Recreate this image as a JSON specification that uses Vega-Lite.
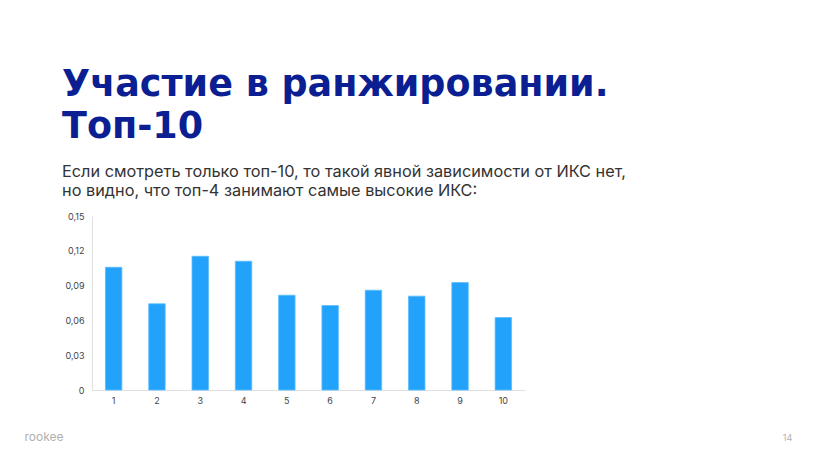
{
  "$schema": "https://vega.github.io/schema/vega-lite/v6.json",
  "width": 433,
  "height": 174,
  "autosize": {"type": "none"},
  "padding": {"left": 92, "top": 216, "right": 293, "bottom": 70},
  "background": "#ffffff",
  "title": {
    "text": ["Участие в ранжировании.", "Топ-10"],
    "subtitle": ["Если смотреть только топ-10, то такой явной зависимости от ИКС нет,", "но видно, что топ-4 занимают самые высокие ИКС:"],
    "anchor": "start",
    "frame": "group",
    "dx": -30,
    "offset": 13,
    "font": "DejaVu Sans",
    "fontSize": 36.5,
    "fontWeight": "bold",
    "lineHeight": 42,
    "color": "#0b1f93",
    "subtitleFont": "Inter",
    "subtitleFontSize": 16.3,
    "subtitleLineHeight": 19,
    "subtitleColor": "#333333",
    "subtitlePadding": 18
  },
  "data": {
    "values": [
      {"pos": "1", "iks": 0.1058},
      {"pos": "2", "iks": 0.0743},
      {"pos": "3", "iks": 0.1153},
      {"pos": "4", "iks": 0.111},
      {"pos": "5", "iks": 0.0817},
      {"pos": "6", "iks": 0.0728},
      {"pos": "7", "iks": 0.086},
      {"pos": "8", "iks": 0.0809},
      {"pos": "9", "iks": 0.0926},
      {"pos": "10", "iks": 0.0625}
    ]
  },
  "encoding": {
    "x": {
      "field": "pos",
      "type": "ordinal",
      "sort": null,
      "scale": {"paddingInner": 0.62, "paddingOuter": 0.31},
      "axis": {
        "title": "rookee",
        "titleFont": "Inter",
        "titleFontSize": 12,
        "titleFontWeight": 400,
        "titleColor": "#b0b0b0",
        "titleAnchor": "start",
        "titleAlign": "left",
        "titleX": -68,
        "titleY": 41,
        "labelAngle": 0,
        "labelFont": "Inter",
        "labelFontSize": 9,
        "labelColor": "#444444",
        "labelPadding": 6,
        "ticks": false,
        "domainColor": "#e0e0e0",
        "domainWidth": 1
      }
    }
  },
  "layer": [
    {
      "mark": {"type": "bar", "color": "#22a2fa", "stroke": "#5cbcfc", "strokeWidth": 0.8},
      "encoding": {
        "y": {
          "field": "iks",
          "type": "quantitative",
          "scale": {"domain": [0, 0.15], "nice": false},
          "axis": {
            "title": null,
            "values": [0, 0.03, 0.06, 0.09, 0.12, 0.15],
            "labelExpr": "replace(format(datum.value, '.2~f'), '.', ',')",
            "labelFont": "Inter",
            "labelFontSize": 9,
            "labelColor": "#444444",
            "labelPadding": 8,
            "ticks": false,
            "grid": false,
            "domainColor": "#e0e0e0",
            "domainWidth": 1
          }
        }
      }
    },
    {
      "mark": {"type": "bar", "opacity": 0},
      "encoding": {
        "y": {
          "field": "iks",
          "type": "quantitative",
          "scale": {"domain": [0, 0.15], "nice": false},
          "axis": {
            "orient": "right",
            "title": "14",
            "titleFont": "Inter",
            "titleFontSize": 9,
            "titleFontWeight": 400,
            "titleColor": "#b0b0b0",
            "titleAngle": 0,
            "titleX": 262,
            "titleY": 221,
            "titleBaseline": "middle",
            "labels": false,
            "ticks": false,
            "grid": false,
            "domain": false
          }
        }
      }
    }
  ],
  "resolve": {"axis": {"y": "independent"}},
  "config": {"view": {"stroke": null}}
}
